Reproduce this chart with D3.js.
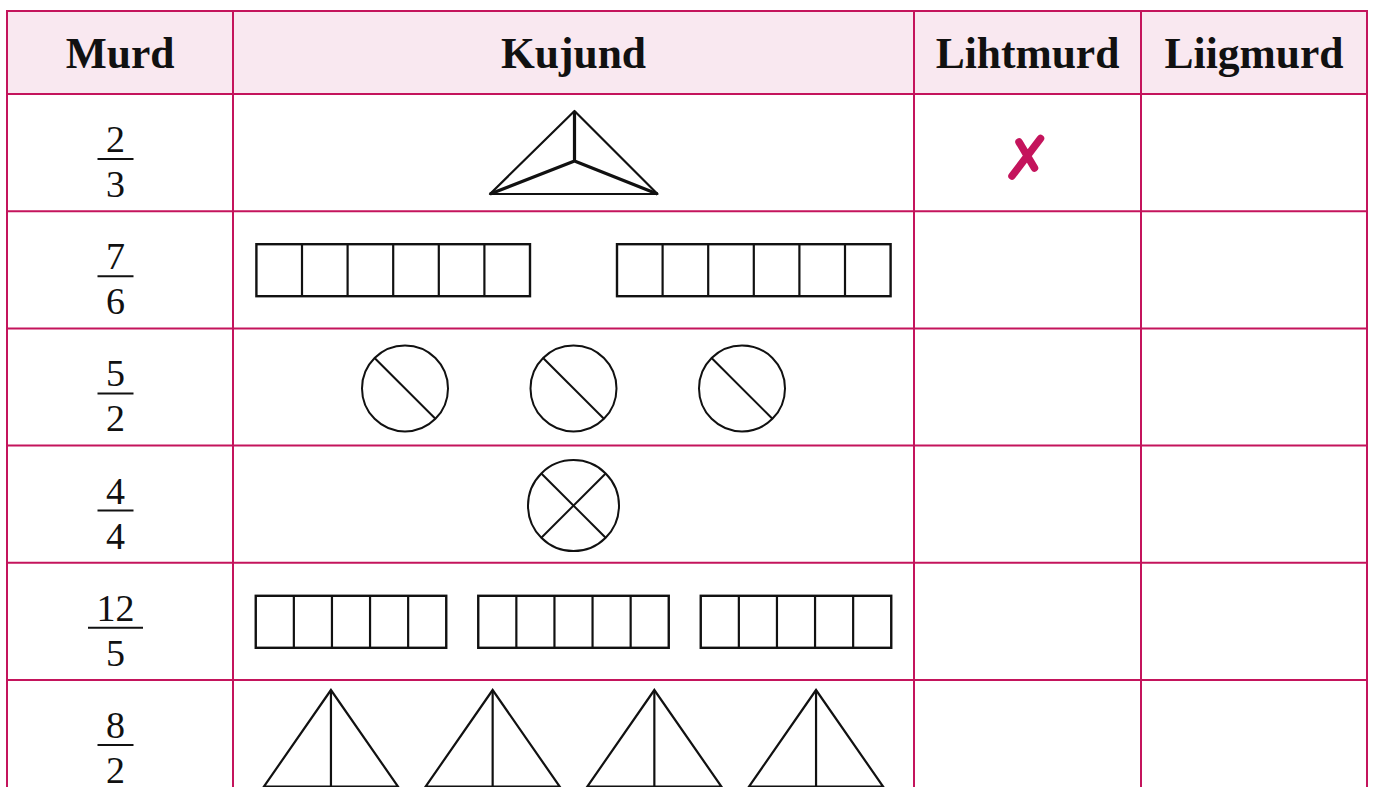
<!DOCTYPE html>
<html><head><meta charset="utf-8">
<script src="https://cdn.jsdelivr.net/npm/d3@7/dist/d3.min.js"></script>
<style>html,body{margin:0;padding:0;background:#fff;overflow:hidden}</style>
</head><body>
<svg id="chart" width="1373" height="787"></svg>
<script>
// ---- data ----
const headers = ["Murd", "Kujund", "Lihtmurd", "Liigmurd"];
const numerators = [2, 7, 5, 4, 12, 8];
const denominators = [3, 6, 2, 4, 5, 2];
const shapeTypes = ["splitTriangle", "bar", "circle", "circle", "bar", "halfTriangle"];
const shapeCounts = [1, 2, 3, 1, 3, 4];
const shapeParts = [3, 6, 2, 4, 5, 2];
const lihtmurdMarks = [true, false, false, false, false, false];
const liigmurdMarks = [false, false, false, false, false, false];

// ---- layout ----
const W = 1373, H = 787;
const border = "#c4145c", headFill = "#f9e8f0";
const colEdges = [7, 233, 914, 1141, 1367];
const headTop = 11, headBottom = 94, rowH = 117.2;
const svg = d3.select("#chart");

const rowIdx = d3.range(numerators.length);
const y = d3.scaleBand().domain(rowIdx).range([headBottom, headBottom + rowIdx.length * rowH]).padding(0);
const colCenter = i => (colEdges[i] + colEdges[i + 1]) / 2;

// header background
svg.append("rect").attr("x", colEdges[0]).attr("y", headTop)
  .attr("width", colEdges[4] - colEdges[0]).attr("height", headBottom - headTop)
  .attr("fill", headFill);

// header texts
svg.selectAll("text.head").data(headers).join("text").attr("class", "head")
  .attr("x", (d, i) => colCenter(i)).attr("y", 68)
  .attr("text-anchor", "middle")
  .attr("font-family", "'Liberation Serif', 'DejaVu Serif', serif")
  .attr("font-weight", "bold").attr("font-size", 43.5).attr("fill", "#111")
  .text(d => d);

// fractions
const fracFont = "'Liberation Serif', 'DejaVu Serif', serif";
const fx = colCenter(0) - 4.5;
const fg = svg.selectAll("g.frac").data(rowIdx).join("g").attr("class", "frac")
  .attr("transform", i => `translate(${fx},${y(i)})`);
fg.append("text").attr("class", "num").attr("x", 0).attr("y", 58)
  .attr("text-anchor", "middle").attr("font-family", fracFont).attr("font-size", 38).attr("fill", "#111")
  .text(i => numerators[i]);
fg.append("text").attr("class", "den").attr("x", 0).attr("y", 103)
  .attr("text-anchor", "middle").attr("font-family", fracFont).attr("font-size", 38).attr("fill", "#111")
  .text(i => denominators[i]);
fg.each(function (i) {
  const g = d3.select(this);
  const w = Math.max(g.select(".num").node().getComputedTextLength(), g.select(".den").node().getComputedTextLength());
  const L = w + 17;
  g.append("line").attr("x1", -L / 2).attr("x2", L / 2).attr("y1", 65).attr("y2", 65)
    .attr("stroke", "#111").attr("stroke-width", 2);
});

// shapes
const kx = colCenter(1);
const barCfg = { 1: { cellW: 45.6, gap: 87 }, 4: { cellW: 38.1, gap: 32 } };
const circCfg = { 2: { r: 43, spacing: 168.5 }, 3: { r: 45.5, spacing: 0 } };
rowIdx.forEach(i => {
  const y0 = y(i), g = svg.append("g").attr("class", "shape");
  const type = shapeTypes[i], n = shapeCounts[i], parts = shapeParts[i];
  if (type === "splitTriangle") {
    const apex = [kx + 1, y0 + 17], bl = [kx - 83.5, y0 + 100], br = [kx + 84, y0 + 100], c = [kx + 1, y0 + 67];
    g.append("path").attr("d", d3.line()([apex, bl, br]) + "Z")
      .attr("fill", "none").attr("stroke", "#111").attr("stroke-width", 2.2).attr("stroke-linejoin", "round");
    g.append("path").attr("d", d3.line()([apex, c]) + "M" + bl + "L" + c + "L" + br)
      .attr("fill", "none").attr("stroke", "#111").attr("stroke-width", 3.2).attr("stroke-linejoin", "round");
  } else if (type === "bar") {
    const cfg = barCfg[i], gw = cfg.cellW * parts;
    const total = n * gw + (n - 1) * cfg.gap;
    const gx = d3.scaleLinear().domain([0, 1]).range([kx - total / 2, kx - total / 2 + gw + cfg.gap]);
    d3.range(n).forEach(k => {
      const x0 = gx(k);
      const cx = d3.scaleLinear().domain([0, parts]).range([x0, x0 + gw]);
      g.append("rect").attr("x", x0).attr("y", y0 + 33).attr("width", gw).attr("height", 52)
        .attr("fill", "none").attr("stroke", "#111").attr("stroke-width", 2.4);
      d3.range(1, parts).forEach(p => {
        g.append("line").attr("x1", cx(p)).attr("x2", cx(p)).attr("y1", y0 + 33).attr("y2", y0 + 85)
          .attr("stroke", "#111").attr("stroke-width", 2.2);
      });
    });
  } else if (type === "circle") {
    const cfg = circCfg[i];
    d3.range(n).forEach(k => {
      const cx = kx + (k - (n - 1) / 2) * cfg.spacing, cy = y0 + 60, r = cfg.r;
      g.append("circle").attr("cx", cx).attr("cy", cy).attr("r", r)
        .attr("fill", "none").attr("stroke", "#111").attr("stroke-width", 2);
      const d = r * Math.SQRT1_2;
      g.append("line").attr("x1", cx - d).attr("y1", cy - d).attr("x2", cx + d).attr("y2", cy + d)
        .attr("stroke", "#111").attr("stroke-width", 2);
      if (parts === 4) {
        g.append("line").attr("x1", cx + d).attr("y1", cy - d).attr("x2", cx - d).attr("y2", cy + d)
          .attr("stroke", "#111").attr("stroke-width", 2);
      }
    });
  } else if (type === "halfTriangle") {
    const spacing = 161.7, hw = 67, top = y0 + 10, base = y0 + 106.5;
    d3.range(n).forEach(k => {
      const cx = kx + (k - (n - 1) / 2) * spacing;
      g.append("path").attr("d", d3.line()([[cx, top], [cx - hw, base], [cx + hw, base]]) + "Z")
        .attr("fill", "none").attr("stroke", "#111").attr("stroke-width", 2.2).attr("stroke-linejoin", "miter");
      g.append("line").attr("x1", cx).attr("x2", cx).attr("y1", top).attr("y2", base)
        .attr("stroke", "#111").attr("stroke-width", 2.2);
    });
  }
});

// check marks
function drawMark(cx, cy) {
  svg.append("path")
    .attr("d", `M${cx - 14.5},${cy + 19}L${cx + 14},${cy - 18.5}M${cx - 7.5},${cy - 15}L${cx + 8},${cy + 11}`)
    .attr("fill", "none").attr("stroke", border).attr("stroke-width", 7.5).attr("stroke-linecap", "round");
}
rowIdx.forEach(i => {
  if (lihtmurdMarks[i]) drawMark(colCenter(2) - 1, y(i) + 63);
  if (liigmurdMarks[i]) drawMark(colCenter(3) - 1, y(i) + 63);
});

// grid lines
const bottom = H + 20;
colEdges.forEach(x => {
  svg.append("line").attr("x1", x).attr("x2", x).attr("y1", headTop).attr("y2", bottom)
    .attr("stroke", border).attr("stroke-width", 2);
});
[headTop, headBottom].concat(rowIdx.map(i => y(i) + y.bandwidth())).forEach(yy => {
  svg.append("line").attr("x1", colEdges[0] - 1).attr("x2", colEdges[4] + 1).attr("y1", yy).attr("y2", yy)
    .attr("stroke", border).attr("stroke-width", 2);
});
</script>
</body></html>
